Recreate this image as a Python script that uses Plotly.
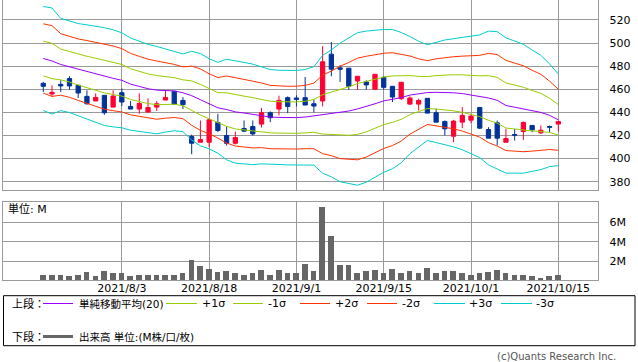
import plotly.graph_objects as go

dates = [
    "2021/7/19", "2021/7/20", "2021/7/21", "2021/7/26", "2021/7/27", "2021/7/28", "2021/7/29", "2021/7/30",
    "2021/8/2", "2021/8/3", "2021/8/4", "2021/8/5", "2021/8/6", "2021/8/10", "2021/8/11", "2021/8/12",
    "2021/8/13", "2021/8/16", "2021/8/17", "2021/8/18", "2021/8/19", "2021/8/20", "2021/8/23", "2021/8/24",
    "2021/8/25", "2021/8/26", "2021/8/27", "2021/8/30", "2021/8/31",
    "2021/9/1", "2021/9/2", "2021/9/3", "2021/9/6", "2021/9/7", "2021/9/8", "2021/9/9", "2021/9/10",
    "2021/9/13", "2021/9/14", "2021/9/15", "2021/9/16", "2021/9/17", "2021/9/21", "2021/9/22", "2021/9/24",
    "2021/9/27", "2021/9/28", "2021/9/29", "2021/9/30",
    "2021/10/1", "2021/10/4", "2021/10/5", "2021/10/6", "2021/10/7", "2021/10/8", "2021/10/11",
    "2021/10/12", "2021/10/13", "2021/10/14", "2021/10/15",
]

open_ = [465.2, 456.0, 464.3, 469.3, 463.5, 453.9, 449.9, 454.8, 444.6, 457.1,
         445.2, 442.9, 440.3, 444.6, 450.7, 458.3, 450.4, 419.1, 414.2, 414.2,
         431.3, 420.0, 413.3, 426.1, 427.8, 429.9, 439.7, 442.9, 452.8, 452.5,
         452.8, 447.5, 449.9, 490.4, 478.6, 478.3, 467.2, 466.4, 460.0, 470.4,
         462.6, 451.9, 447.2, 447.2, 452.2, 439.7, 432.2, 419.4, 431.6, 433.3,
         444.3, 425.2, 431.0, 414.2, 420.9, 423.5, 428.7, 422.3, 427.8, 429.9]
high = [466.4, 463.5, 467.8, 471.3, 463.5, 459.1, 456.5, 454.8, 459.1, 460.6,
        449.9, 456.5, 452.2, 449.9, 458.6, 458.3, 453.3, 420.9, 433.0, 434.5,
        438.8, 427.8, 423.5, 433.0, 433.0, 443.8, 440.9, 454.5, 453.9, 454.8,
        470.7, 451.0, 497.4, 500.9, 480.9, 478.3, 471.3, 467.8, 473.0, 471.3,
        462.6, 466.1, 453.9, 451.9, 452.2, 443.2, 433.0, 433.6, 444.6, 438.8,
        444.3, 427.2, 433.0, 425.8, 425.8, 432.2, 428.7, 428.7, 428.7, 432.2]
low = [457.7, 453.3, 457.7, 459.7, 452.5, 446.7, 449.9, 438.0, 444.6, 445.5,
       442.9, 438.8, 440.3, 441.2, 450.7, 447.2, 442.9, 403.8, 414.2, 410.1,
       422.9, 411.3, 412.2, 422.9, 420.0, 427.0, 431.6, 437.4, 439.4, 445.2,
       446.4, 440.0, 445.2, 471.3, 466.4, 459.7, 459.7, 459.7, 460.0, 459.7,
       449.0, 450.7, 446.4, 441.7, 439.4, 431.6, 420.0, 414.2, 426.4, 430.7,
       425.5, 417.7, 411.3, 414.2, 415.7, 416.2, 422.9, 421.4, 422.9, 423.5]
close = [462.6, 457.4, 462.9, 462.9, 456.8, 447.5, 453.0, 439.7, 454.2, 449.0,
         442.9, 447.8, 444.3, 447.5, 453.0, 447.2, 446.7, 413.3, 416.5, 433.6,
         424.3, 413.3, 418.3, 423.8, 421.4, 439.7, 435.4, 450.4, 445.2, 451.3,
         446.4, 445.5, 483.8, 477.4, 477.4, 462.6, 471.3, 463.8, 473.0, 461.7,
         453.3, 466.1, 452.5, 450.4, 439.4, 431.6, 425.8, 432.5, 437.4, 436.8,
         426.4, 417.7, 417.7, 417.4, 420.3, 431.3, 424.9, 424.6, 427.2, 432.2]

volume_m = [0.63, 0.63, 0.63, 0.43, 0.63, 0.94, 0.43, 1.04, 0.84, 0.74,
            0.43, 0.63, 0.53, 0.53, 0.63, 0.63, 0.84, 2.17, 1.56, 1.25,
            0.94, 1.04, 0.84, 0.63, 0.84, 1.15, 0.63, 1.15, 0.74, 0.74,
            1.76, 1.04, 7.61, 4.63, 1.66, 1.66, 0.84, 1.04, 1.15, 0.84,
            1.25, 0.84, 1.04, 0.74, 1.35, 0.74, 1.04, 1.04, 0.74, 0.53,
            0.74, 0.94, 1.15, 0.74, 0.63, 0.63, 0.43, 0.32, 0.43, 0.63]

sma20 = [486.7, 484.5, 481.5, 479.5, 477.0, 475.0, 473.0, 471.0, 469.5, 467.8,
         464.5, 462.5, 460.5, 459.3, 459.0, 458.6, 457.0, 454.5, 451.0, 447.5,
         444.0, 442.5, 440.5, 439.5, 438.3, 437.5, 436.0, 435.7, 435.4, 435.5,
         436.0, 437.0, 438.3, 439.2, 440.0, 441.2, 443.0, 445.0, 447.5, 450.0,
         451.5, 452.8, 455.0, 456.0, 457.2, 457.4, 457.4, 457.0, 456.3, 455.0,
         454.0, 452.5, 450.5, 446.0, 444.5, 443.2, 441.5, 440.0, 437.5, 433.6]
sigma20 = [15.0, 15.3, 13.3, 13.2, 13.3, 13.6, 13.9, 14.1, 14.0, 13.7,
           13.3, 13.0, 12.8, 12.6, 12.0, 11.5, 11.2, 12.8, 13.3, 13.0,
           13.1, 14.5, 14.8, 14.6, 14.5, 14.0, 13.7, 13.6, 13.6, 13.6,
           13.7, 14.2, 17.0, 18.3, 20.0, 21.0, 22.0, 21.8, 21.2, 20.6,
           20.1, 18.8, 16.9, 15.2, 13.8, 14.5, 15.1, 15.6, 16.2, 16.9,
           17.7, 19.3, 19.8, 19.5, 19.0, 18.6, 17.5, 16.5, 14.8, 13.2]

price_ticks = [380, 400, 420, 440, 460, 480, 500, 520]
volume_ticks = [2, 4, 6]
volume_tick_text = ["2M", "4M", "6M"]
date_ticks = ["2021/8/3", "2021/8/18", "2021/9/1", "2021/9/15", "2021/10/1", "2021/10/15"]

W, H = 638, 362
FONT = "DejaVu Sans, Noto Sans CJK JP, sans-serif"
GRID = "#9a9a9a"
UP = "#ff0033"
DOWN = "#003399"
SMA_C = "#9900ff"
S1_C = "#99cc00"
S2_C = "#ff3300"
S3_C = "#00cccc"
VOL_C = "#666666"


def px(x):
    return x / W


def py(y):
    return 1 - y / H


fig = go.Figure()

band_specs = [(3, S3_C), (2, S2_C), (1, S1_C)]
for k, col in band_specs:
    for sgn in (1, -1):
        fig.add_trace(go.Scatter(
            x=dates, y=[m + sgn * k * s for m, s in zip(sma20, sigma20)],
            mode="lines", line=dict(color=col, width=1), xaxis="x", yaxis="y",
            hoverinfo="skip", showlegend=False))
fig.add_trace(go.Scatter(x=dates, y=sma20, mode="lines", line=dict(color=SMA_C, width=1),
                         xaxis="x", yaxis="y", hoverinfo="skip", showlegend=False))

fig.add_trace(go.Candlestick(
    x=dates, open=open_, high=high, low=low, close=close,
    increasing=dict(line=dict(color=UP, width=1), fillcolor=UP),
    decreasing=dict(line=dict(color=DOWN, width=1), fillcolor=DOWN),
    whiskerwidth=0, xaxis="x", yaxis="y", showlegend=False, hoverinfo="skip"))

fig.add_trace(go.Bar(x=dates, y=volume_m, marker=dict(color=VOL_C, line=dict(width=0)),
                     width=0.65, xaxis="x2", yaxis="y2", showlegend=False, hoverinfo="skip"))

xr = [-4.58, 63.58]
common_x = dict(type="category", categoryorder="array", categoryarray=dates, range=xr,
                tickmode="array", tickvals=date_ticks, showgrid=True, gridcolor=GRID,
                gridwidth=1, showline=True, linecolor=GRID, linewidth=1, zeroline=False,
                domain=[px(3.3), px(598.3)], fixedrange=True, automargin=False)

fig.update_layout(
    width=W, height=H, margin=dict(l=0, r=0, t=0, b=0, autoexpand=False),
    paper_bgcolor="white", plot_bgcolor="white",
    font=dict(family=FONT, size=11, color="#000000"),
    showlegend=False, bargap=0, boxgap=0.3, hovermode=False,
    xaxis=dict(common_x, anchor="y", showticklabels=False, ticks="", mirror=False,
               rangeslider=dict(visible=False)),
    yaxis=dict(domain=[py(190.3), 1.0], range=[372.6, 537.3], side="right",
               tickmode="array", tickvals=price_ticks, showgrid=True, gridcolor=GRID,
               showline=True, linecolor=GRID, linewidth=1, mirror=True, ticks="",
               ticklabelstandoff=8, zeroline=False, anchor="x", automargin=False,
               fixedrange=True, tickfont=dict(size=11, family=FONT, color="#000")),
    xaxis2=dict(common_x, anchor="y2", showticklabels=True, ticks="", mirror=True,
                ticktext=date_ticks, ticklabelstandoff=-3,
                tickfont=dict(size=11, family=FONT, color="#000")),
    yaxis2=dict(domain=[py(280.3), py(201.7)], range=[0, 8.15], side="right",
                tickmode="array", tickvals=volume_ticks, ticktext=volume_tick_text,
                showgrid=True, gridcolor=GRID, showline=True, linecolor=GRID, linewidth=1,
                mirror=True, ticks="", ticklabelstandoff=8, zeroline=False, anchor="x2",
                automargin=False, fixedrange=True,
                tickfont=dict(size=11, family=FONT, color="#000")),
)

shapes = []
annotations = []


def text(x, y, s, size=11, color="#000000", anchor="left"):
    annotations.append(dict(x=px(x), y=py(y), xref="paper", yref="paper", text=s,
                            showarrow=False, xanchor=anchor, yanchor="middle",
                            borderpad=0,
                            font=dict(size=size, family=FONT, color=color)))


def hline(x0, x1, y, color, width=1):
    shapes.append(dict(type="line", xref="paper", yref="paper", x0=px(x0), x1=px(x1),
                       y0=py(y), y1=py(y), line=dict(color=color, width=width)))


text(7, 209, "単位: M")

shapes.append(dict(type="rect", xref="paper", yref="paper", x0=px(3.5), x1=px(635),
                   y0=py(345.7), y1=py(295.7), line=dict(color="#000000", width=1)))

r1 = 303.5
text(11, r1, "上段：")
hline(43, 73, r1, SMA_C)
text(78, r1, "単純移動平均(20)", size=10.5)
hline(166, 197, r1, S1_C)
text(201, r1, "+1σ")
hline(233, 263, r1, S1_C)
text(267, r1, "-1σ")
hline(300, 330, r1, S2_C)
text(334, r1, "+2σ")
hline(367, 397, r1, S2_C)
text(401, r1, "-2σ")
hline(434, 465, r1, S3_C)
text(468, r1, "+3σ")
hline(501, 532, r1, S3_C)
text(535, r1, "-3σ")

r2 = 336.5
text(11, r2, "下段：")
hline(43, 73, r2, VOL_C, 3)
text(78, r2, "出来高 単位:(M株/口/枚)", size=10.5)

text(617, 356.5, "(c)Quants Research Inc.", size=10, color="#555555", anchor="right")

fig.update_layout(shapes=shapes, annotations=annotations)
fig.write_html("out.html", config={"displayModeBar": False, "staticPlot": False},
               post_script="document.body.style.margin='0px';document.body.style.overflow='hidden';")
